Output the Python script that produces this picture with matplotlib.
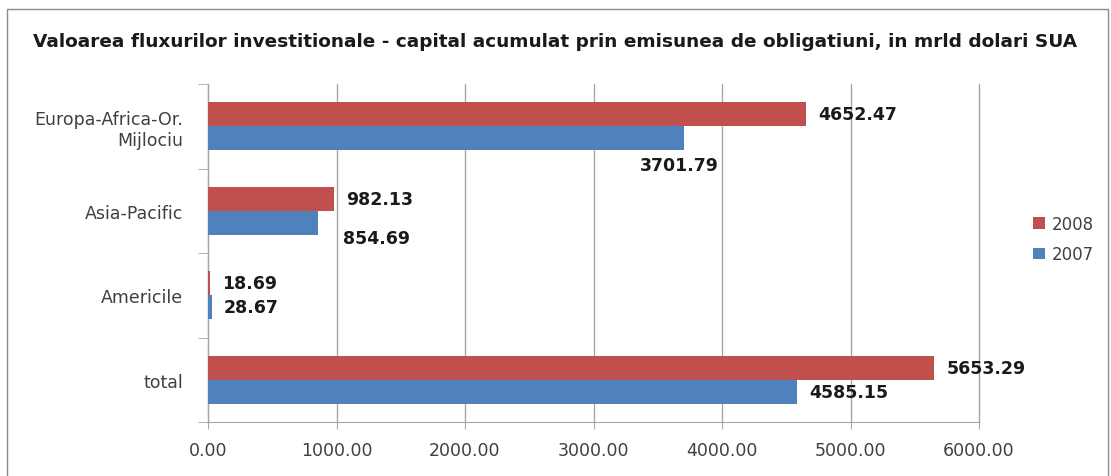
import numpy as np
import matplotlib.pyplot as plt
from matplotlib.patches import Rectangle

# Data
regions = ['total', 'Americile', 'Asia-Pacific', 'Europa-Africa-Or.\nMijlociu']
val_2008 = [5653.29, 18.69, 982.13, 4652.47]
val_2007 = [4585.15, 28.67, 854.69, 3701.79]
xticks = [0, 1000, 2000, 3000, 4000, 5000, 6000]

red = '#C0504D'
blue = '#4F81BD'
grid_col = '#A6A6A6'
text_col = '#404040'

fig = plt.figure(figsize=(11.11, 4.77), dpi=100)
ax = fig.add_axes([208 / 1111, 1 - 423 / 477, (979 - 208) / 1111, (423 - 85) / 477])

y = np.arange(len(regions))
h = 0.285
ax.barh(y + h / 2, val_2008, height=h, color=red, label='2008', zorder=3)
ax.barh(y - h / 2, val_2007, height=h, color=blue, label='2007', zorder=3)

# label offsets in pixels (dx, dy, ha)
off_2008 = [(12, 0, 'left')] * 4
off_2007 = [(12, 0, 'left'), (12, 0, 'left'), (25, -15, 'left'), (-4, -27, 'center')]
px = 0.72
for i in range(len(regions)):
    dx, dy, ha = off_2008[i]
    ax.annotate(f'{val_2008[i]:.2f}', (val_2008[i], y[i] + h / 2), xytext=(dx * px, dy * px),
                textcoords='offset points', ha=ha, va='center', fontsize=12.5,
                fontweight='bold', color='#1a1a1a')
    dx, dy, ha = off_2007[i]
    ax.annotate(f'{val_2007[i]:.2f}', (val_2007[i], y[i] - h / 2), xytext=(dx * px, dy * px),
                textcoords='offset points', ha=ha, va='center', fontsize=12.5,
                fontweight='bold', color='#1a1a1a')

ax.set_xlim(0, 6000)
ax.set_ylim(-0.5, len(regions) - 0.5)
ax.set_xticks(xticks)
ax.set_xticklabels([f'{v:.2f}' for v in xticks], fontsize=12.5, color=text_col)
ax.tick_params(axis='x', length=5, color=grid_col, pad=9)
ax.set_yticks(y)
ax.set_yticklabels(regions, fontsize=12.5, color=text_col)
ax.tick_params(axis='y', length=0, pad=18)
ax.set_yticks(np.arange(-0.5, len(regions)), minor=True)
ax.tick_params(axis='y', which='minor', length=7, color=grid_col)
ax.grid(axis='x', color=grid_col, lw=1, zorder=0)
for gl in ax.get_xgridlines():
    gl.set_clip_on(False)
for s in ['top', 'right']:
    ax.spines[s].set_visible(False)
for s in ['left', 'bottom']:
    ax.spines[s].set_color(grid_col)

fig.text(33 / 1111, 1 - 42 / 477, 'Valoarea fluxurilor investitionale - capital acumulat prin emisunea de obligatiuni, in mrld dolari SUA',
         fontsize=13.3, fontweight='bold', color='#1a1a1a', va='center', ha='left')

fig.legend(loc='center left', bbox_to_anchor=(1018 / 1111, 1 - 240 / 477), frameon=False,
           fontsize=12, handlelength=0.7, handleheight=0.7, handletextpad=0.4,
           labelspacing=0.75, labelcolor=text_col)

fig.patches.append(Rectangle((7 / 1111, -0.1), 1101 / 1111, 1.1 - 10 / 477,
                             transform=fig.transFigure, fill=False, edgecolor='#8c8c8c', lw=1))

fig.savefig('out.png', dpi=100, facecolor='white')
